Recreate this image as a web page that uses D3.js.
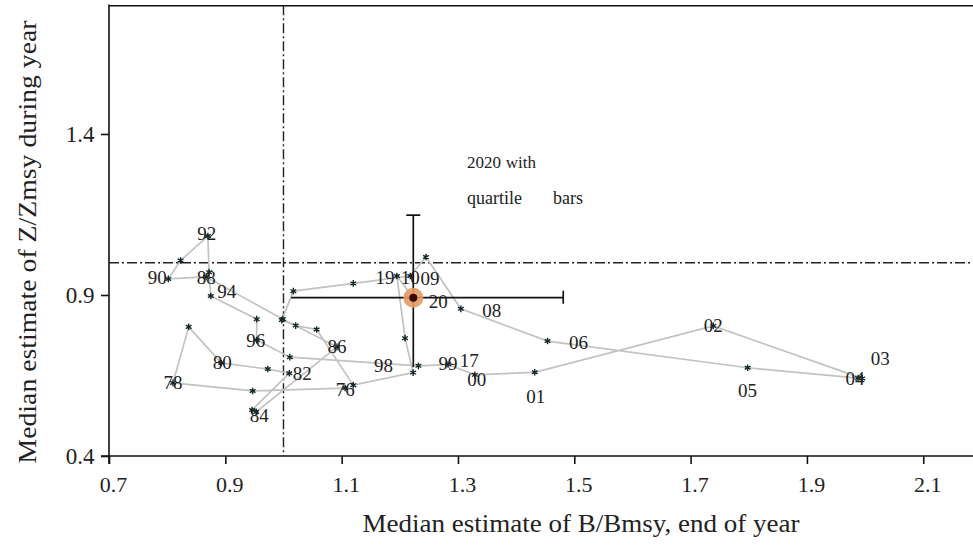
<!DOCTYPE html>
<html><head><meta charset="utf-8">
<script src="https://cdn.jsdelivr.net/npm/d3@7"></script>
<style>body{margin:0;background:#fff}svg{display:block}text{font-family:"Liberation Serif","Times New Roman",serif;fill:#222}</style>
</head><body>
<svg id="c" width="973" height="550"></svg>
<script>
// Trajectory in year order (B/Bmsy end of year, Z/Zmsy during year)
const years = ["76","77","78","79","80","81","82","83","84","86","87","88","90","91","92","93","94","95","96","97","98","99","00","01","02","03","04","05","06","08","09","10","11","12","13","14","15","16","17","18","19","20"];
const bValues = [1.106,0.947,0.810,0.837,0.893,0.973,1.010,0.946,0.953,1.092,0.999,0.867,0.802,0.823,0.870,0.872,0.875,0.954,0.954,1.011,1.232,1.283,1.329,1.432,1.739,1.995,1.988,1.798,1.454,1.305,1.245,1.218,1.120,1.017,0.997,1.021,1.057,1.120,1.223,1.209,1.195,1.2232];
const zValues = [0.611,0.602,0.627,0.801,0.689,0.670,0.657,0.543,0.537,0.739,0.825,0.956,0.950,1.007,1.083,0.971,0.897,0.825,0.760,0.707,0.680,0.684,0.652,0.660,0.804,0.641,0.642,0.674,0.757,0.857,1.018,0.959,0.936,0.912,0.822,0.805,0.793,0.620,0.659,0.766,0.959,0.8916];
const shownLabels = ["76","78","80","82","84","86","88","90","92","94","96","98","99","00","01","02","03","04","05","06","08","09","10","17","19","20"];
const xTicks = [0.7,0.9,1.1,1.3,1.5,1.7,1.9,2.1];
const yTicks = [0.4,0.9,1.4];
const quartB = [1.013, 1.481];   // 2020 quartiles of B/Bmsy
const quartZ = [0.676, 1.148];   // 2020 quartiles of Z/Zmsy
const refB = 1.0, refZ = 1.0;

const svg = d3.select("#c");
const x = d3.scaleLinear().domain([0.7,2.2]).range([109,981.4]);
const y = d3.scaleLinear().domain([0.4,1.8]).range([456,5.2]);

// frame top
svg.append("line").attr("x1",109).attr("x2",973).attr("y1",y(1.8)+0.5).attr("y2",y(1.8)+0.5).attr("stroke","#111").attr("stroke-width",1.6);

const xa = svg.append("g").attr("transform","translate(0,456)").call(d3.axisBottom(x).tickValues(xTicks).tickSize(8).tickSizeOuter(0).tickFormat(d3.format(".1f")));
const ya = svg.append("g").attr("transform","translate(109,0)").call(d3.axisLeft(y).tickValues(yTicks).tickSize(8).tickSizeOuter(0).tickFormat(d3.format(".1f")));
[xa,ya].forEach(g=>{g.select(".domain").attr("stroke","#111").attr("stroke-width",1.6);g.selectAll(".tick line").attr("stroke","#111").attr("stroke-width",1.6);g.selectAll("text").attr("font-family","Liberation Serif").attr("fill","#333");});
xa.selectAll("text").attr("font-size",22).attr("dy","1.15em").attr("dx","4");
ya.selectAll("text").attr("font-size",23).attr("dx","-0.15em");
xa.select(".domain").attr("d","M101,0H973");
ya.select(".domain").attr("d","M0,4.5V464");

// reference lines
svg.append("line").attr("x1",x(refB)).attr("x2",x(refB)).attr("y1",y(1.8)).attr("y2",456).attr("stroke","#222").attr("stroke-width",1.4).attr("stroke-dasharray","10,3,2,3");
svg.append("line").attr("x1",109).attr("x2",973).attr("y1",y(refZ)).attr("y2",y(refZ)).attr("stroke","#222").attr("stroke-width",1.4).attr("stroke-dasharray","10,3,2,3");

// trajectory
const pts = years.map((yr,i)=>({yr, b:bValues[i], z:zValues[i]}));
const last = pts[pts.length-1];
svg.append("path").datum(pts).attr("fill","none").attr("stroke","#c2c2c2").attr("stroke-width",1.7)
  .attr("d", d3.line().x(d=>x(d.b)).y(d=>y(d.z)));

// star markers
const star = d3.symbol().type(d3.symbolAsterisk || d3.symbolCross).size(30);
svg.selectAll(".pt").data(pts.slice(0,-1)).join("path").attr("class","pt")
  .attr("transform",d=>`translate(${x(d.b)},${y(d.z)})`).attr("d",star).attr("stroke","#10282a").attr("stroke-width",1.4).attr("fill","#10282a");

// 2020 quartile bars
const eb = svg.append("g").attr("stroke","#111").attr("stroke-width",1.7);
eb.append("line").attr("x1",x(quartB[0])).attr("x2",x(quartB[1])).attr("y1",y(last.z)).attr("y2",y(last.z));
eb.append("line").attr("x1",x(quartB[1])).attr("x2",x(quartB[1])).attr("y1",y(last.z)-7).attr("y2",y(last.z)+6);
eb.append("line").attr("x1",x(last.b)).attr("x2",x(last.b)).attr("y1",y(quartZ[0])).attr("y2",y(quartZ[1]));
eb.append("line").attr("x1",x(last.b)-7).attr("x2",x(last.b)+7).attr("y1",y(quartZ[1])).attr("y2",y(quartZ[1]));

svg.append("circle").attr("cx",x(last.b)).attr("cy",y(last.z)).attr("r",10).attr("fill","#e39a62").attr("opacity",0.9);
svg.append("circle").attr("cx",x(last.b)).attr("cy",y(last.z)).attr("r",4).attr("fill","#3a0a00");

// year labels (pixel offsets from each point)
const labelOffsets = {"76":[0,1],"78":[0,0],"80":[1,0],"82":[13,0],"84":[3,4],"86":[0,0],"88":[0,1],"90":[-11,-1],"92":[-1,-3],"94":[16,-4],"96":[-1,0],"98":[-35,0],"99":[0,-1],"17":[56,-12],"00":[2,5],"01":[1,24],"02":[0,0],"03":[18,-20],"04":[-3,0],"05":[0,23],"06":[31,1],"08":[31,2],"09":[4,21],"10":[0,1],"19":[-12,1],"20":[25,4]};
const labelled = pts.filter(d=>shownLabels.includes(d.yr));
svg.selectAll(".lb").data(labelled).join("text").attr("class","lb")
  .attr("x",d=>x(d.b)+labelOffsets[d.yr][0]).attr("y",d=>y(d.z)+labelOffsets[d.yr][1])
  .attr("text-anchor","middle").attr("dominant-baseline","central").attr("font-size",19).attr("fill","#2a2a2a").text(d=>d.yr);

// annotation
svg.append("text").attr("x",467).attr("y",168).attr("font-size",17).text("2020");
svg.append("text").attr("x",536).attr("y",168).attr("text-anchor","end").attr("font-size",17).text("with");
svg.append("text").attr("x",467).attr("y",204).attr("font-size",18).text("quartile");
svg.append("text").attr("x",583).attr("y",204).attr("text-anchor","end").attr("font-size",18).text("bars");

// axis titles
svg.append("text").attr("x",581).attr("y",532).attr("text-anchor","middle").attr("font-size",26).attr("textLength",437).attr("lengthAdjust","spacingAndGlyphs").attr("fill","#333").text("Median estimate of B/Bmsy, end of year");
svg.append("text").attr("transform","translate(36,242) rotate(-90)").attr("text-anchor","middle").attr("font-size",25).attr("textLength",443).attr("lengthAdjust","spacingAndGlyphs").attr("fill","#333").text("Median estimate of Z/Zmsy during year");
</script>
</body></html>
